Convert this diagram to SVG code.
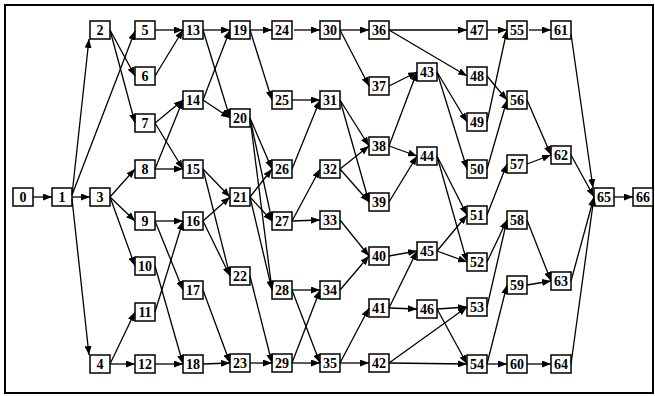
<svg xmlns="http://www.w3.org/2000/svg" width="655" height="396" viewBox="0 0 655 396">
<style>
.n rect{fill:#fff;stroke:#000;stroke-width:1.5}
.n text{font-family:"Liberation Serif",serif;font-weight:bold;font-size:14px;text-anchor:middle}
#edges line{stroke:#000;stroke-width:1.3;marker-end:url(#a)}
</style>
<defs><marker id="a" markerWidth="9" markerHeight="7" refX="9" refY="3.5" orient="auto" markerUnits="userSpaceOnUse"><path d="M0,0 L9,3.5 L0,7 z"/></marker></defs>
<rect x="5" y="5" width="648" height="388" fill="#fff" stroke="#000" stroke-width="2"/>
<g id="n0" class="n"><rect x="13" y="188" width="20" height="18"/><text x="23" y="202">0</text></g>
<g id="n1" class="n"><rect x="52" y="188" width="20" height="18"/><text x="62" y="202">1</text></g>
<g id="n2" class="n"><rect x="90" y="21" width="20" height="18"/><text x="100" y="35">2</text></g>
<g id="n3" class="n"><rect x="90" y="188" width="20" height="18"/><text x="100" y="202">3</text></g>
<g id="n4" class="n"><rect x="90" y="355" width="20" height="18"/><text x="100" y="369">4</text></g>
<g id="n5" class="n"><rect x="135" y="21" width="20" height="18"/><text x="145" y="35">5</text></g>
<g id="n6" class="n"><rect x="135" y="67" width="20" height="18"/><text x="145" y="81">6</text></g>
<g id="n7" class="n"><rect x="135" y="114" width="20" height="18"/><text x="145" y="128">7</text></g>
<g id="n8" class="n"><rect x="135" y="160" width="20" height="18"/><text x="145" y="174">8</text></g>
<g id="n9" class="n"><rect x="135" y="212" width="20" height="18"/><text x="145" y="226">9</text></g>
<g id="n10" class="n"><rect x="135" y="257" width="20" height="18"/><text x="145" y="271">10</text></g>
<g id="n11" class="n"><rect x="135" y="303" width="20" height="18"/><text x="145" y="317">11</text></g>
<g id="n12" class="n"><rect x="135" y="355" width="20" height="18"/><text x="145" y="369">12</text></g>
<g id="n13" class="n"><rect x="183" y="21" width="20" height="18"/><text x="193" y="35">13</text></g>
<g id="n14" class="n"><rect x="183" y="91" width="20" height="18"/><text x="193" y="105">14</text></g>
<g id="n15" class="n"><rect x="183" y="160" width="20" height="18"/><text x="193" y="174">15</text></g>
<g id="n16" class="n"><rect x="183" y="212" width="20" height="18"/><text x="193" y="226">16</text></g>
<g id="n17" class="n"><rect x="183" y="281" width="20" height="18"/><text x="193" y="295">17</text></g>
<g id="n18" class="n"><rect x="183" y="355" width="20" height="18"/><text x="193" y="369">18</text></g>
<g id="n19" class="n"><rect x="230" y="21" width="20" height="18"/><text x="240" y="35">19</text></g>
<g id="n20" class="n"><rect x="230" y="109" width="20" height="18"/><text x="240" y="123">20</text></g>
<g id="n21" class="n"><rect x="230" y="188" width="20" height="18"/><text x="240" y="202">21</text></g>
<g id="n22" class="n"><rect x="230" y="267" width="20" height="18"/><text x="240" y="281">22</text></g>
<g id="n23" class="n"><rect x="230" y="354" width="20" height="18"/><text x="240" y="368">23</text></g>
<g id="n24" class="n"><rect x="272" y="21" width="20" height="18"/><text x="282" y="35">24</text></g>
<g id="n25" class="n"><rect x="272" y="91" width="20" height="18"/><text x="282" y="105">25</text></g>
<g id="n26" class="n"><rect x="272" y="160" width="20" height="18"/><text x="282" y="174">26</text></g>
<g id="n27" class="n"><rect x="272" y="212" width="20" height="18"/><text x="282" y="226">27</text></g>
<g id="n28" class="n"><rect x="272" y="281" width="20" height="18"/><text x="282" y="295">28</text></g>
<g id="n29" class="n"><rect x="272" y="354" width="20" height="18"/><text x="282" y="368">29</text></g>
<g id="n30" class="n"><rect x="320" y="21" width="20" height="18"/><text x="330" y="35">30</text></g>
<g id="n31" class="n"><rect x="320" y="91" width="20" height="18"/><text x="330" y="105">31</text></g>
<g id="n32" class="n"><rect x="320" y="160" width="20" height="18"/><text x="330" y="174">32</text></g>
<g id="n33" class="n"><rect x="320" y="211" width="20" height="18"/><text x="330" y="225">33</text></g>
<g id="n34" class="n"><rect x="320" y="281" width="20" height="18"/><text x="330" y="295">34</text></g>
<g id="n35" class="n"><rect x="320" y="354" width="20" height="18"/><text x="330" y="368">35</text></g>
<g id="n36" class="n"><rect x="369" y="21" width="20" height="18"/><text x="379" y="35">36</text></g>
<g id="n37" class="n"><rect x="369" y="77" width="20" height="18"/><text x="379" y="91">37</text></g>
<g id="n38" class="n"><rect x="369" y="137" width="20" height="18"/><text x="379" y="151">38</text></g>
<g id="n39" class="n"><rect x="369" y="193" width="20" height="18"/><text x="379" y="207">39</text></g>
<g id="n40" class="n"><rect x="369" y="247" width="20" height="18"/><text x="379" y="261">40</text></g>
<g id="n41" class="n"><rect x="369" y="299" width="20" height="18"/><text x="379" y="313">41</text></g>
<g id="n42" class="n"><rect x="369" y="354" width="20" height="18"/><text x="379" y="368">42</text></g>
<g id="n43" class="n"><rect x="417" y="63" width="20" height="18"/><text x="427" y="77">43</text></g>
<g id="n44" class="n"><rect x="417" y="147" width="20" height="18"/><text x="427" y="161">44</text></g>
<g id="n45" class="n"><rect x="417" y="242" width="20" height="18"/><text x="427" y="256">45</text></g>
<g id="n46" class="n"><rect x="417" y="300" width="20" height="18"/><text x="427" y="314">46</text></g>
<g id="n47" class="n"><rect x="467" y="21" width="20" height="18"/><text x="477" y="35">47</text></g>
<g id="n48" class="n"><rect x="467" y="67" width="20" height="18"/><text x="477" y="81">48</text></g>
<g id="n49" class="n"><rect x="467" y="113" width="20" height="18"/><text x="477" y="127">49</text></g>
<g id="n50" class="n"><rect x="467" y="160" width="20" height="18"/><text x="477" y="174">50</text></g>
<g id="n51" class="n"><rect x="467" y="206" width="20" height="18"/><text x="477" y="220">51</text></g>
<g id="n52" class="n"><rect x="467" y="253" width="20" height="18"/><text x="477" y="267">52</text></g>
<g id="n53" class="n"><rect x="467" y="298" width="20" height="18"/><text x="477" y="312">53</text></g>
<g id="n54" class="n"><rect x="467" y="355" width="20" height="18"/><text x="477" y="369">54</text></g>
<g id="n55" class="n"><rect x="507" y="21" width="20" height="18"/><text x="517" y="35">55</text></g>
<g id="n56" class="n"><rect x="507" y="91" width="20" height="18"/><text x="517" y="105">56</text></g>
<g id="n57" class="n"><rect x="507" y="155" width="20" height="18"/><text x="517" y="169">57</text></g>
<g id="n58" class="n"><rect x="507" y="211" width="20" height="18"/><text x="517" y="225">58</text></g>
<g id="n59" class="n"><rect x="507" y="276" width="20" height="18"/><text x="517" y="290">59</text></g>
<g id="n60" class="n"><rect x="507" y="355" width="20" height="18"/><text x="517" y="369">60</text></g>
<g id="n61" class="n"><rect x="551" y="21" width="20" height="18"/><text x="561" y="35">61</text></g>
<g id="n62" class="n"><rect x="551" y="146" width="20" height="18"/><text x="561" y="160">62</text></g>
<g id="n63" class="n"><rect x="551" y="272" width="20" height="18"/><text x="561" y="286">63</text></g>
<g id="n64" class="n"><rect x="551" y="355" width="20" height="18"/><text x="561" y="369">64</text></g>
<g id="n65" class="n"><rect x="594" y="188" width="20" height="18"/><text x="604" y="202">65</text></g>
<g id="n66" class="n"><rect x="633" y="188" width="20" height="18"/><text x="643" y="202">66</text></g>
<g id="edges">
<line x1="33" y1="197" x2="52" y2="197"/>
<line x1="72" y1="195" x2="89" y2="39"/>
<line x1="72" y1="197" x2="90" y2="197"/>
<line x1="72" y1="199" x2="89" y2="355"/>
<line x1="72" y1="195" x2="135" y2="31"/>
<line x1="110" y1="30" x2="135" y2="76"/>
<line x1="110" y1="30" x2="135" y2="123"/>
<line x1="110" y1="197" x2="135" y2="169"/>
<line x1="110" y1="197" x2="135" y2="221"/>
<line x1="110" y1="197" x2="135" y2="266"/>
<line x1="110" y1="364" x2="135" y2="312"/>
<line x1="110" y1="364" x2="135" y2="364"/>
<line x1="155" y1="30" x2="183" y2="30"/>
<line x1="155" y1="76" x2="183" y2="30"/>
<line x1="155" y1="123" x2="183" y2="100"/>
<line x1="155" y1="123" x2="183" y2="169"/>
<line x1="155" y1="169" x2="183" y2="100"/>
<line x1="155" y1="169" x2="183" y2="169"/>
<line x1="155" y1="221" x2="183" y2="221"/>
<line x1="155" y1="221" x2="183" y2="290"/>
<line x1="155" y1="266" x2="183" y2="364"/>
<line x1="155" y1="312" x2="183" y2="221"/>
<line x1="155" y1="364" x2="183" y2="364"/>
<line x1="203" y1="30" x2="230" y2="30"/>
<line x1="203" y1="30" x2="230" y2="118"/>
<line x1="203" y1="100" x2="230" y2="30"/>
<line x1="203" y1="100" x2="230" y2="118"/>
<line x1="203" y1="169" x2="230" y2="197"/>
<line x1="203" y1="169" x2="230" y2="276"/>
<line x1="203" y1="221" x2="230" y2="197"/>
<line x1="203" y1="221" x2="230" y2="276"/>
<line x1="203" y1="290" x2="230" y2="363"/>
<line x1="203" y1="364" x2="230" y2="363"/>
<line x1="250" y1="30" x2="272" y2="30"/>
<line x1="250" y1="30" x2="272" y2="100"/>
<line x1="250" y1="118" x2="272" y2="169"/>
<line x1="250" y1="118" x2="272" y2="221"/>
<line x1="250" y1="118" x2="272" y2="290"/>
<line x1="250" y1="197" x2="272" y2="169"/>
<line x1="250" y1="197" x2="272" y2="221"/>
<line x1="250" y1="197" x2="272" y2="290"/>
<line x1="250" y1="276" x2="272" y2="363"/>
<line x1="250" y1="363" x2="272" y2="363"/>
<line x1="294" y1="30" x2="320" y2="30"/>
<line x1="292" y1="100" x2="320" y2="100"/>
<line x1="292" y1="169" x2="320" y2="100"/>
<line x1="292" y1="221" x2="320" y2="169"/>
<line x1="292" y1="221" x2="320" y2="220"/>
<line x1="292" y1="290" x2="320" y2="290"/>
<line x1="292" y1="290" x2="320" y2="363"/>
<line x1="292" y1="363" x2="320" y2="290"/>
<line x1="292" y1="363" x2="320" y2="363"/>
<line x1="340" y1="30" x2="369" y2="30"/>
<line x1="340" y1="30" x2="369" y2="86"/>
<line x1="340" y1="100" x2="369" y2="146"/>
<line x1="340" y1="100" x2="369" y2="202"/>
<line x1="340" y1="169" x2="369" y2="146"/>
<line x1="340" y1="169" x2="369" y2="202"/>
<line x1="340" y1="220" x2="369" y2="256"/>
<line x1="340" y1="290" x2="369" y2="256"/>
<line x1="340" y1="363" x2="369" y2="308"/>
<line x1="340" y1="363" x2="369" y2="363"/>
<line x1="389" y1="30" x2="467" y2="30"/>
<line x1="389" y1="30" x2="467" y2="76"/>
<line x1="389" y1="86" x2="417" y2="72"/>
<line x1="389" y1="146" x2="417" y2="72"/>
<line x1="389" y1="146" x2="417" y2="156"/>
<line x1="389" y1="202" x2="417" y2="156"/>
<line x1="389" y1="256" x2="417" y2="251"/>
<line x1="389" y1="308" x2="417" y2="251"/>
<line x1="389" y1="308" x2="417" y2="309"/>
<line x1="389" y1="363" x2="467" y2="307"/>
<line x1="389" y1="363" x2="467" y2="364"/>
<line x1="437" y1="72" x2="467" y2="122"/>
<line x1="437" y1="72" x2="467" y2="169"/>
<line x1="437" y1="156" x2="467" y2="215"/>
<line x1="437" y1="156" x2="467" y2="262"/>
<line x1="437" y1="251" x2="467" y2="215"/>
<line x1="437" y1="251" x2="467" y2="262"/>
<line x1="437" y1="309" x2="467" y2="307"/>
<line x1="437" y1="309" x2="467" y2="364"/>
<line x1="487" y1="30" x2="507" y2="30"/>
<line x1="487" y1="76" x2="507" y2="100"/>
<line x1="487" y1="122" x2="507" y2="30"/>
<line x1="487" y1="169" x2="507" y2="100"/>
<line x1="487" y1="215" x2="507" y2="164"/>
<line x1="487" y1="262" x2="507" y2="220"/>
<line x1="487" y1="307" x2="507" y2="220"/>
<line x1="487" y1="364" x2="507" y2="285"/>
<line x1="487" y1="364" x2="507" y2="364"/>
<line x1="529" y1="30" x2="551" y2="30"/>
<line x1="527" y1="100" x2="551" y2="155"/>
<line x1="527" y1="164" x2="551" y2="155"/>
<line x1="527" y1="220" x2="551" y2="281"/>
<line x1="527" y1="285" x2="551" y2="281"/>
<line x1="527" y1="364" x2="551" y2="364"/>
<line x1="571" y1="34" x2="593" y2="188"/>
<line x1="571" y1="155" x2="594" y2="197"/>
<line x1="571" y1="281" x2="594" y2="197"/>
<line x1="571" y1="364" x2="594" y2="197"/>
<line x1="614" y1="197" x2="633" y2="197"/>
</g>
</svg>
